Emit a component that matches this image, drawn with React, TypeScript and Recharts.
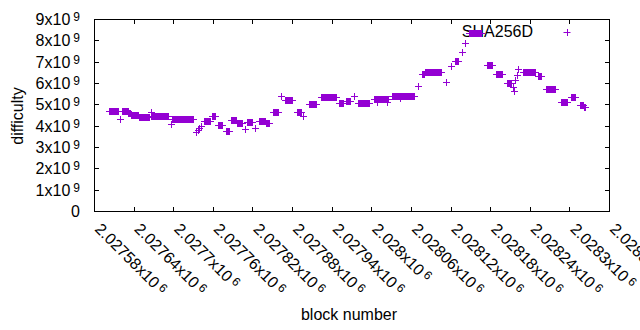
import { ScatterChart, Scatter, XAxis, YAxis } from "recharts";

// runs of blocks that share the same SHA256D difficulty (x10^9)
const runStart = [
  2027603, 2027619, 2027622, 2027632, 2027636, 2027648, 2027666, 2027667, 2027696, 2027698,
  2027734, 2027737, 2027739, 2027742, 2027747, 2027759, 2027768, 2027780, 2027787, 2027797,
  2027808, 2027812, 2027824, 2027830, 2027840, 2027851, 2027863, 2027869, 2027887, 2027897,
  2027906, 2027924, 2027951, 2027962, 2027974, 2027980, 2028004, 2028009, 2028024, 2028031,
  2028044, 2028071, 2028077, 2028081, 2028113, 2028120, 2028127, 2028138, 2028142, 2028148,
  2028175, 2028189, 2028205, 2028215, 2028216, 2028218, 2028221, 2028222, 2028230, 2028252,
  2028265, 2028287, 2028302, 2028316, 2028322,
];
const runEnd = [
  2027616, 2027619, 2027631, 2027634, 2027647, 2027663, 2027692, 2027667, 2027696, 2027730,
  2027734, 2027737, 2027739, 2027742, 2027756, 2027763, 2027774, 2027784, 2027795, 2027804,
  2027808, 2027819, 2027824, 2027839, 2027845, 2027859, 2027863, 2027880, 2027893, 2027897,
  2027916, 2027946, 2027957, 2027968, 2027974, 2027996, 2028025, 2028009, 2028024, 2028065,
  2028044, 2028071, 2028080, 2028106, 2028113, 2028120, 2028131, 2028138, 2028142, 2028166,
  2028183, 2028198, 2028212, 2028215, 2028216, 2028218, 2028221, 2028222, 2028248, 2028257,
  2028278, 2028296, 2028308, 2028321, 2028324,
];
const runDifficulty = [
  4.67, 4.3, 4.69, 4.6, 4.49, 4.39, 4.47, 4.66, 4.1, 4.31,
  3.72, 3.78, 3.89, 4.0, 4.22, 4.45, 4.03, 3.75, 4.27, 4.14,
  3.84, 4.16, 3.9, 4.23, 4.14, 4.66, 5.4, 5.2, 4.63, 4.45,
  5.0, 5.33, 5.05, 5.17, 5.39, 5.08, 5.25, 5.13, 5.13, 5.4,
  5.3, 5.87, 6.42, 6.5, 6.06, 6.8, 7.03, 7.44, 7.86, 8.33,
  6.84, 6.42, 6.01, 5.83, 5.64, 6.14, 6.37, 6.66, 6.5, 6.34,
  5.7, 5.12, 5.33, 4.97, 4.86,
];

const xTicks = [
  2027580, 2027640, 2027700, 2027760, 2027820, 2027880, 2027940,
  2028000, 2028060, 2028120, 2028180, 2028240, 2028300, 2028360,
];
const yTicks = [0, 1e9, 2e9, 3e9, 4e9, 5e9, 6e9, 7e9, 8e9, 9e9];

const X_MIN = 2027580;
const X_MAX = 2028360;
const Y_MAX = 9e9;

const points = runStart.flatMap((s, i) => {
  const out: { block: number; difficulty: number }[] = [];
  for (let b = s; b <= runEnd[i]; b++) out.push({ block: b, difficulty: runDifficulty[i] * 1e9 });
  return out;
});

const FONT = "'Liberation Sans', Arial, sans-serif";
const PURPLE = "#9400d3";

// chart box: 640x330, y axis 80 wide, x axis 100 tall
const MARGIN = { top: 19, right: 31, bottom: 19, left: 14 };
const PLOT_X = MARGIN.left + 80;
const PLOT_Y = MARGIN.top;
const PLOT_W = 640 - MARGIN.left - MARGIN.right - 80;
const PLOT_H = 330 - MARGIN.top - MARGIN.bottom - 100;

const px = (v: number) => Math.round(v) + 0.5;

function Plus(props: any) {
  const { cx, cy } = props;
  if (cx == null || cy == null) return null;
  const x = px(cx);
  const y = px(cy);
  return <path d={`M${x - 3.5},${y}h7M${x},${y - 3.5}v7`} stroke={PURPLE} strokeWidth={1} fill="none" />;
}

function XTick({ x, y, payload }: any) {
  const label = parseFloat((payload.value / 1e6).toFixed(5)).toString();
  const ay = y + 19;
  return (
    <text x={x} y={ay} transform={`rotate(45, ${x}, ${ay})`} fontSize={16} fontFamily={FONT} fill="#000">
      {label}x10
      <tspan dx={3} dy={-4} fontSize={12}>6</tspan>
    </text>
  );
}

function YTick({ x, y, payload }: any) {
  const v = payload.value / 1e9;
  return (
    <text x={x - 14} y={y + 6} fontSize={16} fontFamily={FONT} fill="#000" textAnchor="end">
      {v === 0 ? "0" : `${v}x10`}
      {v !== 0 && <tspan dx={3} dy={-4} fontSize={12}>9</tspan>}
    </text>
  );
}

// axis titles and key, drawn beneath the chart
function Titles() {
  return (
    <svg width={640} height={330} style={{ position: "absolute", left: 0, top: 0 }}>
      <text x={17} y={116} transform="rotate(-90, 17, 116)" fontSize={16} fontFamily={FONT} textAnchor="middle" dominantBaseline="central">
        difficulty
      </text>
      <text x={349} y={320} fontSize={16} fontFamily={FONT} textAnchor="middle">
        block number
      </text>
      <text x={533} y={37} fontSize={16} fontFamily={FONT} textAnchor="end">
        SHA256D
      </text>
      <path d="M563.5,32.5h7M567.5,29v7" stroke={PURPLE} strokeWidth={1} />
    </svg>
  );
}

// gnuplot-style border with inward ticks on all four sides, over the chart
function Frame() {
  const sx = (v: number) => Math.round(PLOT_X + ((v - X_MIN) / (X_MAX - X_MIN)) * PLOT_W);
  const sy = (v: number) => Math.round(PLOT_Y + PLOT_H - (v / Y_MAX) * PLOT_H);
  return (
    <svg width={640} height={330} style={{ position: "absolute", left: 0, top: 0, pointerEvents: "none" }}>
      <rect x={PLOT_X} y={PLOT_Y} width={PLOT_W + 1} height={1} fill="#000" />
      <rect x={PLOT_X} y={PLOT_Y + PLOT_H} width={PLOT_W + 1} height={1} fill="#000" />
      <rect x={PLOT_X} y={PLOT_Y} width={1} height={PLOT_H + 1} fill="#000" />
      <rect x={PLOT_X + PLOT_W} y={PLOT_Y} width={1} height={PLOT_H + 1} fill="#000" />
      {xTicks.map((t) => (
        <g key={`x${t}`}>
          <rect x={sx(t)} y={PLOT_Y + PLOT_H - 4} width={1} height={4} fill="#000" />
          <rect x={sx(t)} y={PLOT_Y + 1} width={1} height={4} fill="#000" />
        </g>
      ))}
      {yTicks.map((t) => (
        <g key={`y${t}`}>
          <rect x={PLOT_X + 1} y={sy(t)} width={4} height={1} fill="#000" />
          <rect x={PLOT_X + PLOT_W - 4} y={sy(t)} width={4} height={1} fill="#000" />
        </g>
      ))}
    </svg>
  );
}

export default function App() {
  return (
    <div style={{ position: "absolute", left: 0, top: 0, width: 640, height: 330 }}>
      <Titles />
      <div style={{ position: "absolute", left: 0, top: 0 }}>
        <ScatterChart width={640} height={330} margin={MARGIN}>
          <XAxis
            dataKey="block"
            type="number"
            domain={[X_MIN, X_MAX]}
            ticks={xTicks}
            interval={0}
            height={100}
            tickSize={0}
            tickMargin={0}
            tickLine={false}
            axisLine={false}
            tick={<XTick />}
          />
          <YAxis
            dataKey="difficulty"
            type="number"
            domain={[0, Y_MAX]}
            ticks={yTicks}
            interval={0}
            width={80}
            tickSize={0}
            tickMargin={0}
            tickLine={false}
            axisLine={false}
            tick={<YTick />}
          />
          <Scatter data={points} fill={PURPLE} shape={Plus} isAnimationActive={false} />
        </ScatterChart>
      </div>
      <Frame />
    </div>
  );
}
